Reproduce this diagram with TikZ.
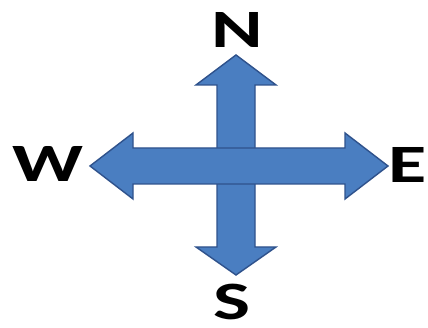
\documentclass[tikz,border=0pt]{standalone}
\usepackage{fontspec}
\setmainfont{Carlito}
\definecolor{arrowfill}{RGB}{74,126,193}
\definecolor{arrowline}{RGB}{47,82,140}
\begin{document}
\begin{tikzpicture}[x=1pt,y=-1pt,
  bigarrow/.style={fill=arrowfill,draw=arrowline,line width=1.4pt,line join=miter},
  letter/.style={font=\fontsize{54}{54}\selectfont\bfseries,inner sep=0pt,xscale=1.45}]
  \useasboundingbox[fill=white] (0,0) rectangle (428,328);
  % north-south double arrow
  \draw[bigarrow] (236,55) -- (276,85) -- (255,85) -- (255,247) -- (276,247)
    -- (236,275) -- (196,247) -- (217,247) -- (217,85) -- (196,85) -- cycle;
  % west-east double arrow, laid over the vertical one
  \draw[bigarrow] (90,166) -- (133,133) -- (133,148) -- (345,148) -- (345,133)
    -- (388,166) -- (345,199) -- (345,184) -- (133,184) -- (133,199) -- cycle;
  % compass letters
  \node[letter] (n) at (237,30) {N};
  \node[letter] (w) at (48,164) {W};
  \node[letter] (e) at (408,165) {E};
  \node[letter] (s) at (232,302) {S};
\end{tikzpicture}
\end{document}
